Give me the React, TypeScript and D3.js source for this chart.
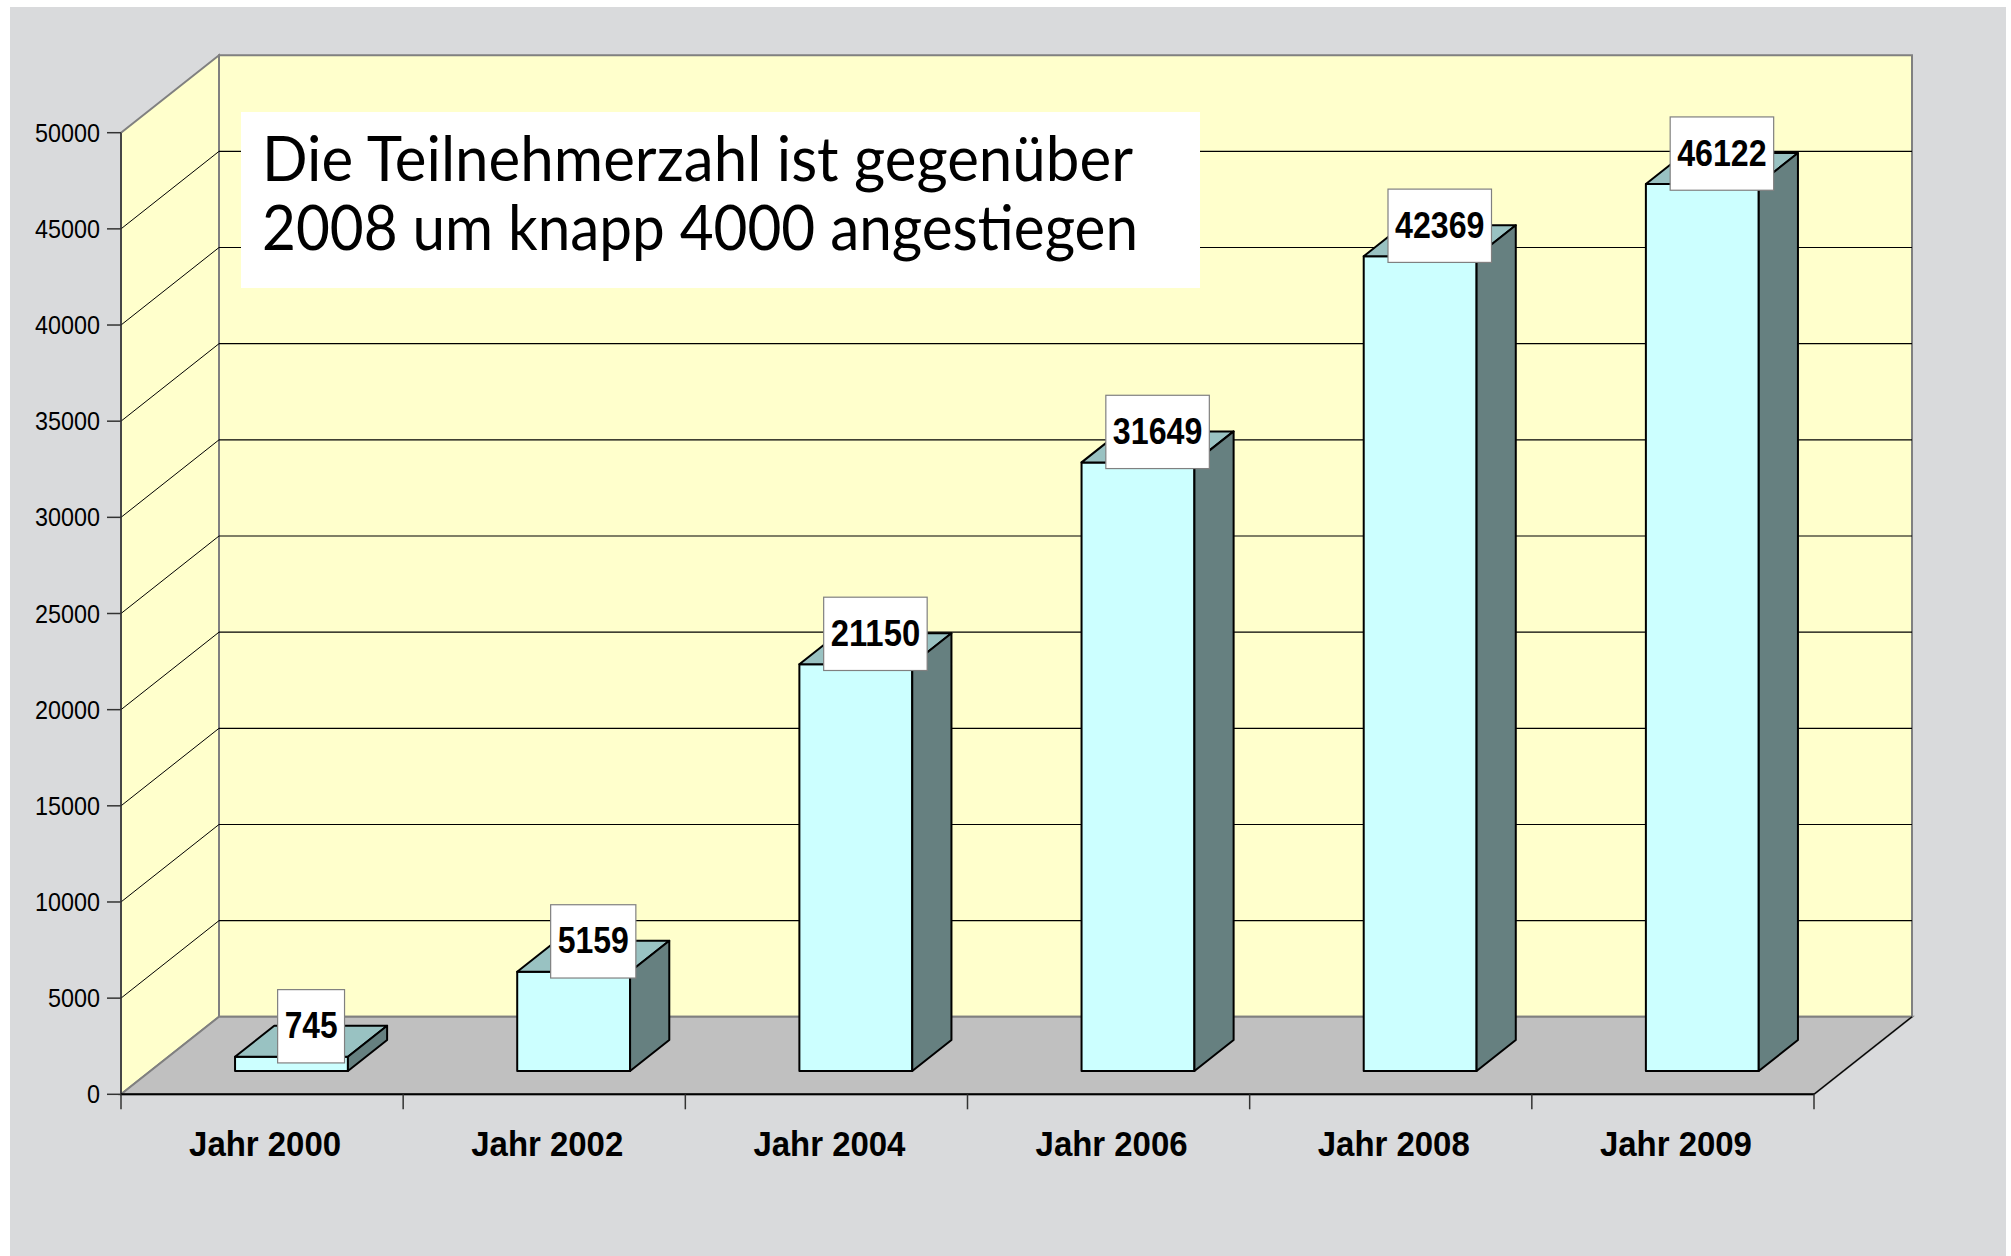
import React from "react";
import { scaleLinear, scaleBand } from "d3";

const categories = ["Jahr 2000", "Jahr 2002", "Jahr 2004", "Jahr 2006", "Jahr 2008", "Jahr 2009"];
const values = [745, 5159, 21150, 31649, 42369, 46122];
const yTicks = [0, 5000, 10000, 15000, 20000, 25000, 30000, 35000, 40000, 45000, 50000];
const titleLines = ["Die Teilnehmerzahl ist gegenüber", "2008 um knapp 4000 angestiegen"];

const W = 2011;
const H = 1256;
// depth of the 3d box
const DX = 98;
const DY = 77.5;

export default function App() {
  const x = scaleBand().domain(categories).range([121, 1814]).padding(0);
  const y = scaleLinear().domain([0, 50000]).range([1094.3, 132.7]);
  const band = x.bandwidth();
  const barW = band * 0.4;
  const y0 = y(0);
  const yMax = y(50000);
  const left = 121;
  const right = 1814;

  const pts = (p) => p.map((d) => d.join(",")).join(" ");

  return (
    <svg width={W} height={H} style={{ position: "absolute", left: 0, top: 0 }}>
      <rect x={0} y={0} width={W} height={H} fill="#ffffff" />
      <rect x={10} y={7} width={1996} height={H - 7} fill="#d9dadc" />

      {/* left wall */}
      <polygon
        points={pts([[left, yMax], [left + DX, yMax - DY], [left + DX, y0 - DY], [left, y0]])}
        fill="#ffffcc"
        stroke="#808080"
        strokeWidth={2}
      />
      {/* back wall */}
      <polygon
        points={pts([[left + DX, yMax - DY], [right + DX, yMax - DY], [right + DX, y0 - DY], [left + DX, y0 - DY]])}
        fill="#ffffcc"
        stroke="#808080"
        strokeWidth={2}
      />
      {yTicks.filter((t) => t > 0 && t < 50000).map((t) => (
        <g key={t}>
          <line x1={left} y1={y(t)} x2={left + DX} y2={y(t) - DY} stroke="#000" strokeWidth={1} />
          <line x1={left + DX} y1={y(t) - DY} x2={right + DX} y2={y(t) - DY} stroke="#000" strokeWidth={1.2} />
        </g>
      ))}
      {/* floor */}
      <polygon
        points={pts([[left, y0], [left + DX, y0 - DY], [right + DX, y0 - DY], [right, y0]])}
        fill="#c0c0c0"
        stroke="#808080"
        strokeWidth={2}
      />
      <line x1={right} y1={y0} x2={right + DX} y2={y0 - DY} stroke="#000" strokeWidth={1.2} />

      {/* title box */}
      <rect x={241} y={112} width={959} height={176} fill="#ffffff" />
      {titleLines.map((t, i) => (
        <text
          key={i}
          x={262}
          y={181 + i * 68.5}
          fontFamily="Lato, 'Open Sans', sans-serif"
          fontSize={62}
          textLength={i === 0 ? 871 : 876}
          lengthAdjust="spacingAndGlyphs"
          fill="#000"
        >
          {t}
        </text>
      ))}

      {/* axes */}
      <line x1={left} y1={yMax} x2={left} y2={y0} stroke="#333" strokeWidth={1.5} />
      <line x1={left} y1={y0} x2={right} y2={y0} stroke="#000" strokeWidth={2} />
      {yTicks.map((t) => (
        <g key={t}>
          <line x1={107} y1={y(t)} x2={left} y2={y(t)} stroke="#333" strokeWidth={1.5} />
          <text
            x={100}
            y={y(t) + 9}
            textAnchor="end"
            fontFamily="'Liberation Sans', Arial, sans-serif"
            fontSize={26}
            textLength={String(t).length * 13}
            lengthAdjust="spacingAndGlyphs"
            fill="#000"
          >
            {t}
          </text>
        </g>
      ))}
      {[...categories.map((c) => x(c)), right].map((xx, i) => (
        <line key={i} x1={xx} y1={y0} x2={xx} y2={y0 + 15} stroke="#333" strokeWidth={1.5} />
      ))}
      {categories.map((c) => (
        <text
          key={c}
          x={x(c) + band / 2 + 3}
          y={1155.5}
          textAnchor="middle"
          fontFamily="'Liberation Sans', Arial, sans-serif"
          fontWeight="bold"
          fontSize={35}
          textLength={152}
          lengthAdjust="spacingAndGlyphs"
          fill="#000"
        >
          {c}
        </text>
      ))}

      {/* bars */}
      {values.map((v, i) => {
        const x0 = x(categories[i]) + band / 2 + 0.3 * DX - barW / 2;
        const x1 = x0 + barW;
        const yTop = y(v) - 0.3 * DY;
        const yBot = y0 - 0.3 * DY;
        const dx = 0.4 * DX;
        const dy = 0.4 * DY;
        return (
          <g key={i} stroke="#000" strokeWidth={2} strokeLinejoin="round">
            <rect x={x0} y={yTop} width={barW} height={yBot - yTop} fill="#ccffff" />
            <polygon points={pts([[x0, yTop], [x0 + dx, yTop - dy], [x1 + dx, yTop - dy], [x1, yTop]])} fill="#99c2c2" />
            <polygon points={pts([[x1, yTop], [x1 + dx, yTop - dy], [x1 + dx, yBot - dy], [x1, yBot]])} fill="#668080" />
          </g>
        );
      })}

      {/* value labels */}
      {values.map((v, i) => {
        const cx = x(categories[i]) + band / 2 + 0.5 * DX;
        const cy = y(v) - 0.5 * DY - 15;
        const n = String(v).length;
        const bw = n * 18.3 + 12;
        return (
          <g key={i}>
            <rect x={cx - bw / 2} y={cy - 36.6} width={bw} height={73.3} fill="#ffffff" stroke="#808080" strokeWidth={1.2} />
            <text
              x={cx}
              y={cy + 12}
              textAnchor="middle"
              fontFamily="'Liberation Sans', Arial, sans-serif"
              fontWeight="bold"
              fontSize={36}
              textLength={n * 18.3 - 2}
              lengthAdjust="spacingAndGlyphs"
              fill="#000"
            >
              {v}
            </text>
          </g>
        );
      })}
    </svg>
  );
}
